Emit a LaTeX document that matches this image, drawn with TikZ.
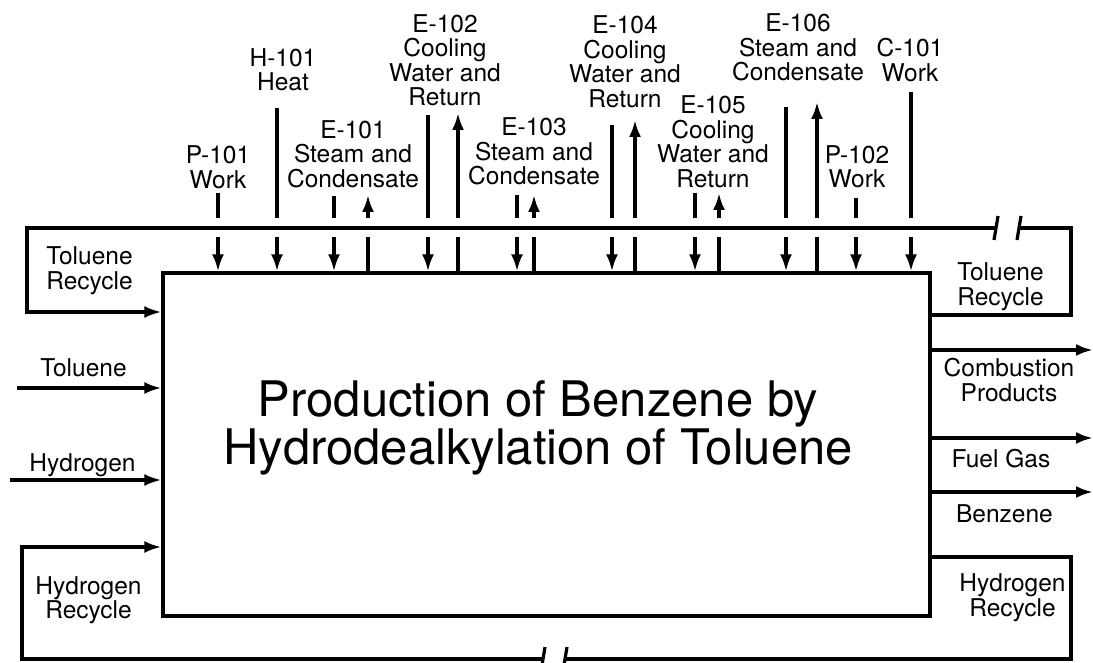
\documentclass[tikz,border=0pt]{standalone}
\usepackage{fontspec}
\setmainfont{TeX Gyre Heros}
\usetikzlibrary{arrows.meta}

\begin{document}
\begin{tikzpicture}[x=1pt, y=-1pt, line width=3.2pt,
          lbl/.style={align=center, inner sep=0pt,
                      font=\fontsize{24.5}{24.5}\selectfont},
          arr/.style={-{Latex[length=17pt, width=12pt]}},
          gap/.style={preaction={draw=white, line width=19pt}}]
        \useasboundingbox (0,0) rectangle (1093,663);
        % process block
        \node[draw, minimum width=767pt, minimum height=343pt] (proc) at (546.5,444.5) {};
        \node[align=center, inner sep=0pt, font=\fontsize{49}{46}\selectfont] (title) at (538,428)
            {Production of Benzene by\\Hydrodealkylation of Toluene};
        % utility labels
        \node[lbl] (lp101) at (218,167.5) {P-101\\Work};
        \node[lbl] (lh101) at (283,70) {H-101\\Heat};
        \node[lbl] (le101) at (353,154) {E-101\\Steam and\\Condensate};
        \node[lbl] (le102) at (445,60.5) {E-102\\Cooling\\Water and\\Return};
        \node[lbl] (le103) at (534,151.5) {E-103\\Steam and\\Condensate};
        \node[lbl] (le104) at (625,62) {E-104\\Cooling\\Water and\\Return};
        \node[lbl] (le105) at (713,142) {E-105\\Cooling\\Water and\\Return};
        \node[lbl] (le106) at (798,47.5) {E-106\\Steam and\\Condensate};
        \node[lbl] (lp102) at (857,167) {P-102\\Work};
        \node[lbl] (lc101) at (910,60) {C-101\\Work};
        % stream labels
        \node[lbl] (ltrl) at (89.5,270.5) {Toluene\\Recycle};
        \node[lbl] (ltol) at (83.5,368) {Toluene};
        \node[lbl] (lh2) at (82.5,465.5) {Hydrogen};
        \node[lbl] (lhrl) at (88.5,600) {Hydrogen\\Recycle};
        \node[lbl] (ltrr) at (1000.5,286.5) {Toluene\\Recycle};
        \node[lbl] (lcomb) at (1009,380) {Combustion\\Products};
        \node[lbl] (lfuel) at (1001,458.5) {Fuel Gas};
        \node[lbl] (lbz) at (1004.5,513.5) {Benzene};
        \node[lbl] (lhrr) at (1012.5,597.5) {Hydrogen\\Recycle};
        % utility streams
        \coordinate (p101in) at (218,193);
        \coordinate (h101in) at (277,108);
        \coordinate (e101in) at (334,196);
        \coordinate (e101out) at (368,195);
        \coordinate (e102in) at (428,115);
        \coordinate (e102out) at (458,113);
        \coordinate (e103in) at (517,195);
        \coordinate (e103out) at (534,195);
        \coordinate (e104in) at (612,125);
        \coordinate (e104out) at (635,120);
        \coordinate (e105in) at (695,193);
        \coordinate (e105out) at (719,193);
        \coordinate (e106in) at (786,107);
        \coordinate (e106out) at (817,102);
        \coordinate (p102in) at (856,198);
        \coordinate (c101in) at (911,92);
        \draw[arr] (p101in) -- (p101in |- proc.north);
        \draw[arr] (h101in) -- (h101in |- proc.north);
        \draw[arr] (e101in) -- (e101in |- proc.north);
        \draw[arr] (e101out |- proc.north) -- (e101out);
        \draw[arr] (e102in) -- (e102in |- proc.north);
        \draw[arr] (e102out |- proc.north) -- (e102out);
        \draw[arr] (e103in) -- (e103in |- proc.north);
        \draw[arr] (e103out |- proc.north) -- (e103out);
        \draw[arr] (e104in) -- (e104in |- proc.north);
        \draw[arr] (e104out |- proc.north) -- (e104out);
        \draw[arr] (e105in) -- (e105in |- proc.north);
        \draw[arr] (e105out |- proc.north) -- (e105out);
        \draw[arr] (e106in) -- (e106in |- proc.north);
        \draw[arr] (e106out |- proc.north) -- (e106out);
        \draw[arr] (p102in) -- (p102in |- proc.north);
        \draw[arr] (c101in) -- (c101in |- proc.north);
        % feeds and products
        \coordinate (tolfeed) at (17,388);
        \coordinate (h2feed) at (10,480);
        \coordinate (combout) at (1093,350);
        \coordinate (fuelout) at (1093,438);
        \coordinate (bzout) at (1093,492);
        \draw[arr] (tolfeed) -- (proc.west |- tolfeed);
        \draw[arr] (h2feed) -- (proc.west |- h2feed);
        \draw[arr] (proc.east |- combout) -- (combout);
        \draw[arr] (proc.east |- fuelout) -- (fuelout);
        \draw[arr] (proc.east |- bzout) -- (bzout);
        % toluene recycle
        \coordinate (trout) at (1071,315);
        \coordinate (trbrkr) at (1018,228);
        \coordinate (trbrkl) at (995,228);
        \coordinate (trin) at (27,312);
        \draw (proc.east |- trout) -- (trout) |- (trbrkr);
        \draw[arr] (trbrkl) -| (trin) -- (proc.west |- trin);
        \draw[gap] (proc.west |- trbrkl) -- (proc.east |- trbrkl);
        \draw ([shift={(3,-12)}]trbrkl) -- ([shift={(-1,12)}]trbrkl);
        \draw ([shift={(3,-12)}]trbrkr) -- ([shift={(-1,12)}]trbrkr);
        % hydrogen recycle
        \coordinate (hrout) at (1071,557);
        \coordinate (hrbrkr) at (565,659);
        \coordinate (hrbrkl) at (543,659);
        \coordinate (hrin) at (22,547);
        \draw (proc.east |- hrout) -- (hrout) |- (hrbrkr);
        \draw[arr] (hrbrkl) -| (hrin) -- (proc.west |- hrin);
        \draw ([shift={(2,-12)}]hrbrkl) -- ([shift={(-2,12)}]hrbrkl);
        \draw ([shift={(2,-12)}]hrbrkr) -- ([shift={(-2,12)}]hrbrkr);
      \end{tikzpicture}
\end{document}
